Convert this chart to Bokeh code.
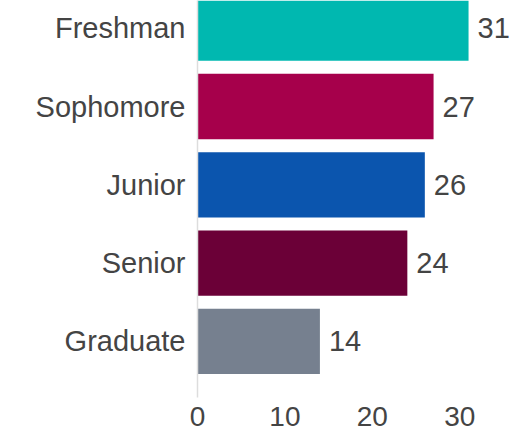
from bokeh.plotting import figure
from bokeh.models import Range1d, FixedTicker, ColumnDataSource
from bokeh.core.properties import value
from bokeh.embed import file_html
from bokeh.resources import INLINE

categories = ["Freshman", "Sophomore", "Junior", "Senior", "Graduate"]
counts = [31, 27, 26, 24, 14]
colors = ["#00b8b0", "#a6004b", "#0b55ae", "#6b0037", "#76808f"]
x_ticks = [0, 10, 20, 30]

idx = list(range(len(categories)))
src = ColumnDataSource(dict(y=idx, right=counts, color=colors,
                            label=[str(c) for c in counts]))

FONT = "Liberation Sans"
TXT = "#444444"

p = figure(width=531, height=430, output_backend="svg", toolbar_location=None,
           x_range=Range1d(0, 38.2), y_range=Range1d(4.716, -0.354),
           min_border_left=197, min_border_right=0, min_border_top=0,
           min_border_bottom=33)
p.outline_line_color = None
p.xgrid.grid_line_color = None
p.ygrid.grid_line_color = None
p.background_fill_color = "white"
p.border_fill_color = "white"

p.hbar(y="y", left=0, right="right", height=0.834, color="color", source=src,
       line_color=None)
p.text(x="right", y="y", text="label", source=src, x_offset=9,
       text_baseline="middle", text_align="left",
       text_font=value(FONT), text_font_size="29px", text_color=TXT)

p.yaxis.ticker = FixedTicker(ticks=idx)
p.yaxis.major_label_overrides = {i: c for i, c in zip(idx, categories)}
p.yaxis.major_tick_line_color = None
p.yaxis.minor_tick_line_color = None
p.yaxis.major_tick_out = 0
p.yaxis.major_tick_in = 0
p.yaxis.axis_line_color = "#dddddd"
p.yaxis.axis_line_width = 1.5
p.yaxis.major_label_standoff = 12
p.yaxis.major_label_text_font = FONT
p.yaxis.major_label_text_font_size = "29px"
p.yaxis.major_label_text_color = TXT

p.xaxis.ticker = FixedTicker(ticks=x_ticks)
p.xaxis.axis_line_color = None
p.xaxis.major_tick_line_color = None
p.xaxis.minor_tick_line_color = None
p.xaxis.major_tick_out = 0
p.xaxis.major_tick_in = 0
p.xaxis.major_label_standoff = 9
p.xaxis.major_label_text_font = FONT
p.xaxis.major_label_text_font_size = "28px"
p.xaxis.major_label_text_color = TXT

open("out.html", "w").write(file_html(p, INLINE))
